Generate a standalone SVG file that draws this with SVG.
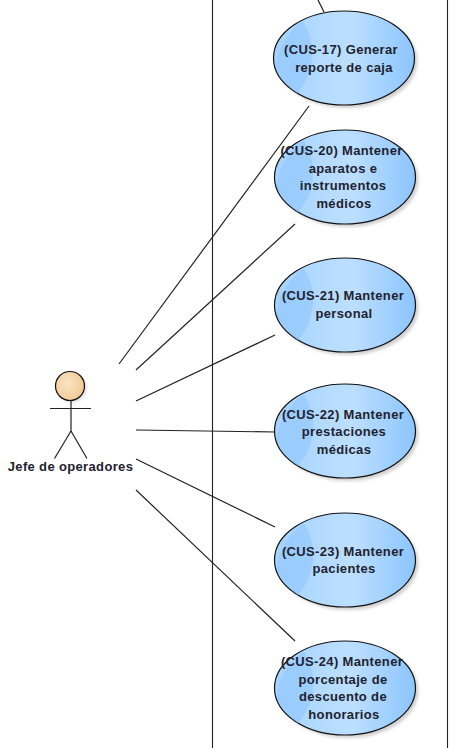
<svg xmlns="http://www.w3.org/2000/svg" width="460" height="748" viewBox="0 0 460 748">
<defs>
<linearGradient id="uc" x1="0" y1="0" x2="1" y2="0"><stop offset="0" stop-color="#a6d3ff"/><stop offset="0.55" stop-color="#bcdfff"/><stop offset="1" stop-color="#8cc5ff"/></linearGradient>
<radialGradient id="head" cx="0.4" cy="0.4" r="0.7"><stop offset="0" stop-color="#fae3c4"/><stop offset="1" stop-color="#f0c78e"/></radialGradient>
<filter id="sh" x="-10%" y="-10%" width="125%" height="125%"><feGaussianBlur stdDeviation="1.5"/></filter>
<g id="oval"><ellipse cx="3" cy="3" rx="70.5" ry="47" fill="#999" opacity="0.45" filter="url(#sh)"/><ellipse rx="70.5" ry="47" fill="url(#uc)" stroke="#111" stroke-width="1.2"/><path d="M-47 35C-56 29-64 20-68 10C-68-5-60-22-42-37C-30-22-30 0-35 15C-38 24-43 30-47 35Z" fill="#8cc5ff" opacity="0.55"/></g>
</defs>
<style>
text{font-family:"Liberation Sans",Arial,sans-serif;font-size:13px;letter-spacing:.35px;font-weight:700;fill:#22222e;text-anchor:middle}
.b{fill:none;stroke:#222;stroke-width:1.1}
.c{fill:none;stroke:#222;stroke-width:1.2}
</style>
<rect width="460" height="748" fill="#fff"/>
<g id="boundary"><line class="b" x1="212.500" y1="0" x2="212.500" y2="748"/><line class="b" x1="447.500" y1="0" x2="447.500" y2="748"/></g>
<g id="connectors">
<line class="c" x1="318" y1="0" x2="324" y2="12"/>
<line class="c" x1="119" y1="364" x2="309" y2="106"/>
<line class="c" x1="136" y1="370" x2="295" y2="224"/>
<line class="c" x1="136" y1="401" x2="275" y2="335"/>
<line class="c" x1="136" y1="430" x2="275" y2="432"/>
<line class="c" x1="136" y1="459" x2="275" y2="527"/>
<line class="c" x1="136" y1="490" x2="295" y2="641"/>
</g>
<g id="actor">
<circle cx="72" cy="388" r="14.500" fill="#aaa" opacity="0.4" filter="url(#sh)"/>
<circle cx="70" cy="386" r="14.500" fill="url(#head)" stroke="#111" stroke-width="1.2"/>
<path class="c" d="M50 408.500H91M71 401V431M71 431L54.500 458.500M71 431L87 458.500"/>
<text x="70.500" y="471">Jefe de operadores</text>
</g>
<g id="cus17"><use href="#oval" x="344" y="58"/><text x="341" y="54">(CUS-17) Generar</text><text x="344" y="72">reporte de caja</text></g>
<g id="cus20"><use href="#oval" x="345" y="177"/><text x="341.500" y="155">(CUS-20) Mantener</text><text x="343" y="173">aparatos e</text><text x="343" y="190">instrumentos</text><text x="344" y="208">médicos</text></g>
<g id="cus21"><use href="#oval" x="345" y="305"/><text x="343" y="300">(CUS-21) Mantener</text><text x="344" y="318">personal</text></g>
<g id="cus22"><use href="#oval" x="345" y="431"/><text x="343" y="419">(CUS-22) Mantener</text><text x="344" y="436">prestaciones</text><text x="344" y="454">médicas</text></g>
<g id="cus23"><use href="#oval" x="345" y="560"/><text x="343" y="556">(CUS-23) Mantener</text><text x="344" y="573">pacientes</text></g>
<g id="cus24"><use href="#oval" x="345" y="688"/><text x="342" y="666">(CUS-24) Mantener</text><text x="343" y="684">porcentaje de</text><text x="343" y="701">descuento de</text><text x="344" y="719">honorarios</text></g>
</svg>
